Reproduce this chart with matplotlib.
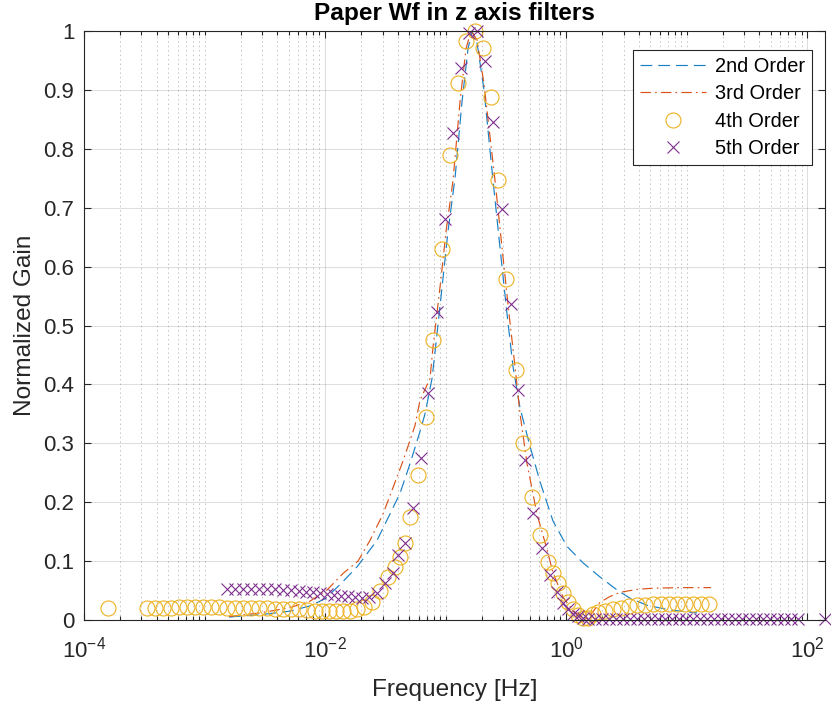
import matplotlib
matplotlib.use("Agg")
import matplotlib.pyplot as plt
from matplotlib.ticker import FixedLocator, LogLocator, NullFormatter, NullLocator

plt.rcParams['font.family'] = ['Liberation Sans', 'DejaVu Sans']
plt.rcParams['mathtext.fontset'] = 'custom'
plt.rcParams['mathtext.rm'] = 'Liberation Sans'
plt.rcParams['mathtext.it'] = 'Liberation Sans:italic'
plt.rcParams['mathtext.bf'] = 'Liberation Sans:bold'
plt.rcParams['mathtext.default'] = 'regular'
plt.rcParams['lines.scale_dashes'] = False

# ---------------- data ----------------
title = "Paper Wf in z axis filters"
xlabel = "Frequency [Hz]"
ylabel = "Normalized Gain"
series_names = ["2nd Order", "3rd Order", "4th Order", "5th Order"]

f2 = [1.596e-3, 2.89e-3, 5.12e-3, 7.51e-3, 1.0e-2, 1.33e-2, 1.84e-2, 2.70e-2, 3.46e-2, 4.19e-2,
      5.07e-2, 6.14e-2, 6.76e-2, 7.73e-2, 8.34e-2, 9.53e-2, 0.1049, 0.1199, 0.1371, 0.1538,
      0.1660, 0.1826, 0.2087, 0.2479, 0.2833, 0.3238, 0.3633, 0.4153, 0.5026, 0.608,
      0.780, 1.019, 1.384, 1.915, 2.65, 3.40, 4.70, 7.30, 12.22]
g2 = [0.005, 0.009, 0.015, 0.024, 0.036, 0.06, 0.09, 0.135, 0.18, 0.215,
      0.265, 0.32, 0.35, 0.41, 0.47, 0.58, 0.66, 0.75, 0.88, 0.97,
      1.0, 0.98, 0.90, 0.746, 0.632, 0.52, 0.43, 0.36, 0.295, 0.235,
      0.168, 0.125, 0.097, 0.073, 0.051, 0.037, 0.025, 0.017, 0.012]

f3 = [1.596e-3, 2.89e-3, 5.12e-3, 7.51e-3, 1.04e-2, 1.41e-2, 1.88e-2, 2.36e-2, 3.03e-2, 3.67e-2,
      4.44e-2, 5.58e-2, 6.14e-2, 7.44e-2, 7.87e-2, 9.18e-2, 0.1010, 0.1154, 0.1319, 0.148,
      0.1628, 0.1826, 0.2087, 0.2576, 0.2944, 0.3365, 0.3775, 0.4153, 0.4746, 0.574,
      0.695, 0.780, 0.944, 1.121, 1.307, 1.466, 1.644, 1.915, 2.32, 2.81,
      3.88, 5.27, 8.83, 15.97]
g3 = [0.006, 0.012, 0.021, 0.032, 0.051, 0.079, 0.10, 0.135, 0.18, 0.225,
      0.27, 0.33, 0.373, 0.41, 0.463, 0.58, 0.66, 0.746, 0.88, 0.97,
      1.0, 0.985, 0.91, 0.746, 0.632, 0.52, 0.43, 0.35, 0.266, 0.18,
      0.12, 0.08, 0.039, 0.018, 0.006, 0.002, 0.012, 0.03, 0.04, 0.047,
      0.052, 0.054, 0.055, 0.055]

f4 = [1.58e-4, 3.33e-4, 3.88e-4, 4.53e-4, 5.27e-4, 6.14e-4, 7.16e-4, 8.34e-4, 9.72e-4,
      1.132e-3, 1.319e-3, 1.537e-3, 1.791e-3, 2.087e-3, 2.43e-3, 2.83e-3, 3.30e-3, 3.85e-3,
      4.48e-3, 5.22e-3, 6.08e-3, 7.09e-3, 8.26e-3, 9.44e-3,
      1.08e-2, 1.23e-2, 1.41e-2, 1.61e-2, 1.84e-2, 2.11e-2, 2.45e-2, 2.86e-2, 3.33e-2,
      3.81e-2, 4.19e-2, 4.61e-2, 5.07e-2, 5.91e-2, 6.89e-2, 7.87e-2, 9.35e-2,
      0.109, 0.127, 0.148, 0.176, 0.205, 0.239, 0.273, 0.318, 0.385, 0.440, 0.522, 0.608,
      0.709, 0.780, 0.858, 0.944,
      1.039, 1.143, 1.258, 1.384, 1.523, 1.675, 1.843, 2.107, 2.455, 2.86, 3.33, 3.88,
      4.53, 5.27, 6.14, 7.16, 8.34, 9.72, 11.32, 13.19, 15.37]
g4 = [0.021, 0.021, 0.021, 0.021, 0.021, 0.022, 0.022, 0.022, 0.022,
      0.022, 0.022, 0.021, 0.021, 0.021, 0.020, 0.020, 0.020, 0.019,
      0.019, 0.018, 0.018, 0.017, 0.016, 0.016,
      0.015, 0.015, 0.015, 0.016, 0.018, 0.022, 0.030, 0.050, 0.073,
      0.090, 0.107, 0.130, 0.175, 0.246, 0.344, 0.475, 0.630,
      0.790, 0.912, 0.983, 1.000, 0.971, 0.888, 0.747, 0.579, 0.425, 0.300, 0.209, 0.144,
      0.098, 0.080, 0.062, 0.045,
      0.030, 0.018, 0.008, 0.003, 0.004, 0.010, 0.013, 0.016, 0.019, 0.021, 0.023, 0.025,
      0.026, 0.027, 0.027, 0.028, 0.028, 0.028, 0.028, 0.028, 0.028]

f5 = [1.537e-3, 1.791e-3, 2.087e-3, 2.43e-3, 2.83e-3, 3.30e-3, 3.85e-3, 4.48e-3, 5.22e-3, 6.08e-3,
      6.95e-3, 7.95e-3, 9.09e-3,
      1.04e-2, 1.19e-2, 1.36e-2, 1.55e-2, 1.77e-2, 2.03e-2, 2.32e-2, 2.70e-2, 3.15e-2, 3.67e-2,
      4.04e-2, 4.61e-2, 5.37e-2, 6.26e-2, 7.16e-2, 8.50e-2, 9.91e-2,
      0.1154, 0.1345, 0.1567, 0.1826, 0.2128, 0.2479, 0.2944, 0.3497, 0.3998, 0.4570,
      0.532, 0.632, 0.737, 0.842, 0.944,
      1.039, 1.143, 1.258, 1.384, 1.523,
      1.741, 1.990, 2.275, 2.60, 2.97, 3.40, 3.88, 4.44, 5.08, 5.80,
      6.63, 7.58, 8.66, 9.91, 11.32, 12.94, 14.79, 16.91, 19.33, 22.09,
      25.3, 28.9, 33.0, 37.7, 43.1, 49.3, 56.4, 64.4, 73.6, 84.2, 140.0]
g5 = [0.052, 0.052, 0.052, 0.052, 0.052, 0.052, 0.052, 0.051, 0.051, 0.050,
      0.048, 0.047, 0.046,
      0.044, 0.042, 0.041, 0.040, 0.039, 0.038, 0.039, 0.046, 0.062, 0.080,
      0.110, 0.130, 0.190, 0.275, 0.385, 0.523, 0.680,
      0.827, 0.937, 0.997, 1.000, 0.949, 0.846, 0.698, 0.537, 0.390, 0.271,
      0.181, 0.122, 0.076, 0.048, 0.029,
      0.018, 0.011, 0.006, 0.003, 0.002,
      0.002, 0.002, 0.002, 0.002, 0.002, 0.002, 0.002, 0.002, 0.002, 0.002,
      0.002, 0.002, 0.002, 0.002, 0.002, 0.002, 0.002, 0.002, 0.002, 0.002,
      0.002, 0.002, 0.002, 0.002, 0.002, 0.002, 0.002, 0.002, 0.002, 0.002, 0.002]

x_limits = (1e-4, 141.0)
y_limits = (0.0, 1.0)
x_major_ticks = [1e-4, 1e-2, 1e0, 1e2]
x_tick_labels = ["10$^{-4}$", "10$^{-2}$", "10$^{0}$", "10$^{2}$"]
y_ticks = [0, 0.1, 0.2, 0.3, 0.4, 0.5, 0.6, 0.7, 0.8, 0.9, 1.0]
y_tick_labels = ["0", "0.1", "0.2", "0.3", "0.4", "0.5", "0.6", "0.7", "0.8", "0.9", "1"]

# ---------------- styling ----------------
c_axis = '#262626'
c2 = '#1a80c4'
c3 = '#D95319'
c4 = '#EDB120'
c5 = '#7E2F8E'

fig = plt.figure(figsize=(8.31, 7.06), dpi=100)
ax = fig.add_axes([84/831, 1 - 620/706, 741/831, 589/706])

ax.plot(f2, g2, color=c2, lw=0.85, dashes=(8.5, 4.3), label=series_names[0])
ax.plot(f3, g3, color=c3, lw=0.85, dashes=(7.5, 3.0, 1.2, 3.0), label=series_names[1])
ax.plot(f4, g4, linestyle='none', marker='o', markersize=10.8, markerfacecolor='none',
        markeredgecolor=c4, markeredgewidth=0.8, label=series_names[2], clip_on=False)
ax.plot(f5, g5, linestyle='none', marker='x', markersize=8.5,
        markeredgecolor=c5, markeredgewidth=0.8, label=series_names[3], clip_on=False)

ax.set_xscale('log')
ax.set_xlim(*x_limits)
ax.set_ylim(*y_limits)

ax.xaxis.set_major_locator(FixedLocator(x_major_ticks))
ax.set_xticklabels(x_tick_labels)
ax.xaxis.set_minor_locator(LogLocator(base=10, subs=[1, 2, 3, 4, 5, 6, 7, 8, 9], numticks=100))
ax.xaxis.set_minor_formatter(NullFormatter())
ax.set_yticks(y_ticks)
ax.set_yticklabels(y_tick_labels)
ax.yaxis.set_minor_locator(NullLocator())

ax.grid(True, which='major', axis='both', color=c_axis, alpha=0.15, lw=0.75, linestyle='-')
ax.grid(True, which='minor', axis='x', color=c_axis, alpha=0.28, lw=0.7, linestyle=(0, (1, 2.2)))
ax.set_axisbelow(True)

for s in ax.spines.values():
    s.set_color(c_axis)
    s.set_linewidth(0.8)

ax.tick_params(axis='both', which='both', direction='in', top=True, right=True,
               colors=c_axis, labelcolor=c_axis, width=0.8)
ax.tick_params(axis='both', which='major', length=5, labelsize=16)
ax.tick_params(axis='x', which='major', pad=12)
ax.tick_params(axis='y', which='major', pad=7)
ax.tick_params(axis='x', which='minor', length=2.8)

ax.set_title(title, fontsize=17.6, fontweight='bold', color='black', pad=8)
ax.set_xlabel(xlabel, fontsize=17.6, color=c_axis, labelpad=12)
ax.set_ylabel(ylabel, fontsize=17.6, color=c_axis, labelpad=5)

leg = ax.legend(loc='upper right', bbox_to_anchor=((812 - 84) / 741, (620 - 50) / 589),
                borderaxespad=0, fontsize=14.4, frameon=True, fancybox=False,
                framealpha=1, edgecolor=c_axis, numpoints=1, handlelength=3.3,
                handletextpad=0.45, labelspacing=0.42, borderpad=0.35)
leg.get_frame().set_linewidth(0.8)
for t in leg.get_texts():
    t.set_color('black')

fig.savefig("out.png", dpi=100)
